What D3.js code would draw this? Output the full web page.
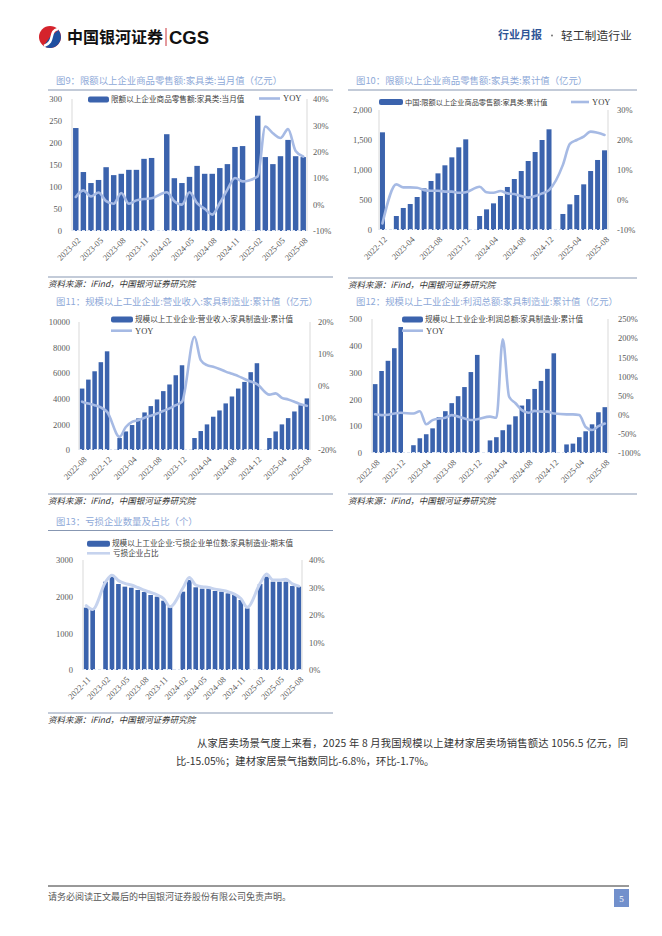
<!DOCTYPE html>
<html><head><meta charset="utf-8">
<script src="https://cdn.jsdelivr.net/npm/d3@7"></script>
<style>html,body{margin:0;padding:0;background:#fff;} svg{display:block;}</style>
</head><body>
<svg id="page" width="662" height="936"></svg>
<script>
// ---------- helpers for month categories ----------
function months(start, end) {
  let [y, m] = start.split('-').map(Number);
  const [ey, em] = end.split('-').map(Number);
  const out = [];
  while (y < ey || (y === ey && m <= em)) {
    out.push(y + '-' + String(m).padStart(2, '0'));
    m++; if (m > 12) { m = 1; y++; }
  }
  return out;
}

// ---------- 图9 ----------
const c9Cats = months('2023-02', '2025-08');
const c9Bars = [234,134,109,116,145,127,130,139,139,164,166,null,220,120,109,123,148,130,130,143,152,191,193,null,262,168,152,170,207,170,168];
const c9Yoy  = [2.9,5.4,3.1,4.6,1.3,0.3,4.4,0.3,1.6,2.1,2.4,null,4.7,1.3,0,4.7,0.6,-1.6,-3.8,0.6,5.7,10.1,8.8,null,10.7,29.6,27.0,25.2,28.6,20.3,18.2];
const c9XTicks = ['2023-02','2023-05','2023-08','2023-11','2024-02','2024-05','2024-08','2024-11','2025-02','2025-05','2025-08'];
const c9LTicks = [0,50,100,150,200,250,300];
const c9RTicks = [-10,0,10,20,30,40];

// ---------- 图10 ----------
const c10Cats = months('2022-12', '2025-08');
const c10Bars = [1628,null,233,367,433,550,694,817,944,1078,1211,1378,1511,null,233,344,444,567,717,850,983,1150,1300,1500,1678,null,267,428,583,761,983,1167,1328];
const c10Yoy  = [-7.8,null,5.2,4.2,4.2,4.1,3.3,3.1,3.1,2.8,2.8,2.4,2.6,null,4.4,2.6,2.4,3.0,2.2,2.0,1.3,0.8,1.3,2.2,3.3,null,11.7,18.7,20.0,21.1,22.8,22.4,21.7];
const c10XTicks = ['2022-12','2023-04','2023-08','2023-12','2024-04','2024-08','2024-12','2025-04','2025-08'];
const c10LTicks = [0,500,1000,1500,2000];
const c10RTicks = [-10,0,10,20,30];

// ---------- 图11 ----------
const c11Cats = months('2022-08', '2025-08');
const c11Bars = [4800,5500,6150,6860,7710,null,935,1450,1950,2470,2935,3430,3950,4600,5120,5840,6620,null,935,1480,2000,2600,3090,3640,4180,4800,5320,6080,6780,null,935,1450,2000,2490,3010,3500,4030];
const c11Yoy  = [-4.9,-5.5,-6.0,-6.7,-8.1,null,-15.9,-12.8,-11.2,-10.7,-9.9,-9.3,-8.6,-7.8,-7.0,-6.0,-4.9,null,15.4,8.1,6.5,6.0,5.3,4.5,3.8,3.1,2.2,1.4,0.6,null,-2.7,-2.3,-3.7,-4.2,-4.9,-5.7,-6.2];
const c11XTicks = ['2022-08','2022-12','2023-04','2023-08','2023-12','2024-04','2024-08','2024-12','2025-04','2025-08'];
const c11LTicks = [0,2000,4000,6000,8000,10000];
const c11RTicks = [-20,-10,0,10,20];

// ---------- 图12 ----------
const c12Cats = months('2022-08', '2025-08');
const c12Bars = [257,306,344,391,470,null,29,55,70,92,134,156,186,212,246,302,366,null,47,59,85,106,137,177,201,239,269,314,372,null,32,35,59,81,107,152,171];
const c12Yoy  = [1,-1,0,3,5,null,3,9,-25,-14,-10,-8,-1,-5,-10,-14,-12,null,-5,-8,197,47,30,12,5,10,8,8,3,null,1,1,-1,-32,-40,-30,-23];
const c12XTicks = c11XTicks;
const c12LTicks = [0,100,200,300,400,500];
const c12RTicks = [-100,-50,0,50,100,150,200,250];

// ---------- 图13 ----------
const c13Cats = months('2022-11', '2025-08');
const c13Bars = [1700,1636,null,2409,2545,2345,2273,2245,2182,2127,2045,2000,1890,1709,null,2136,2455,2255,2218,2218,2155,2136,2090,2045,1909,1682,null,2345,2545,2409,2409,2409,2290,2273];
const c13Ratio = [23.4,22.0,null,32.0,34.5,32.5,31.5,30.9,30.0,29.0,28.2,27.3,26.0,23.0,null,29.7,33.6,30.9,30.3,30.0,29.4,29.0,28.5,27.6,26.0,22.8,null,31.5,34.9,32.7,32.7,33.0,31.3,30.5];
const c13XTicks = ['2022-11','2023-02','2023-05','2023-08','2023-11','2024-02','2024-05','2024-08','2024-11','2025-02','2025-05','2025-08'];
const c13LTicks = [0,1000,2000,3000];
const c13RTicks = [0,10,20,30,40];

// ---------- styles ----------
const CJK = "'Noto Sans CJK SC','Noto Sans',sans-serif";
const SERIF = "'Liberation Serif','Noto Sans CJK SC',serif";
const BAR = '#3b63ad';
const LINE = '#a6bae4';
const TICK = '#595959';
const SEP = '#8797b2';

const svg = d3.select('#page');
svg.append('rect').attr('width', 662).attr('height', 936).attr('fill', '#fff');

// ---------- header ----------
(function header() {
  const g = svg.append('g');
  const cx = 50, cy = 37, r = 11;
  g.append('circle').attr('cx', cx).attr('cy', cy).attr('r', r).attr('fill', '#d5232c');
  const arc = d3.arc().innerRadius(0).outerRadius(r).startAngle(Math.PI * 0.28).endAngle(Math.PI * 1.2);
  g.append('path').attr('d', arc()).attr('transform', `translate(${cx},${cy})`).attr('fill', '#1f4fa0');
  g.append('path').attr('d', `M${cx + 8},${cy - 8} C${cx - 2},${cy - 6} ${cx + 6},${cy + 5} ${cx - 6},${cy + 9}`)
    .attr('fill', 'none').attr('stroke', '#fff').attr('stroke-width', 2.6);
  g.append('text').attr('x', 67).attr('y', 42.5).attr('font-family', CJK).attr('font-weight', 700)
    .attr('font-size', 16).attr('fill', '#111').text('中国银河证券');
  g.append('line').attr('x1', 166).attr('x2', 166).attr('y1', 28).attr('y2', 46).attr('stroke', '#c8323a').attr('stroke-width', 1);
  g.append('text').attr('x', 169).attr('y', 43.5).attr('font-family', "'Liberation Sans',Arial,sans-serif").attr('font-weight', 700)
    .attr('font-size', 18.5).attr('fill', '#111').text('CGS');
  g.append('text').attr('x', 498).attr('y', 39).attr('font-family', CJK).attr('font-size', 11).attr('font-weight', 700)
    .attr('fill', '#2f5597').text('行业月报');
  g.append('circle').attr('cx', 552).attr('cy', 35.5).attr('r', 0.9).attr('fill', '#666');
  g.append('text').attr('x', 561).attr('y', 39.5).attr('font-family', CJK).attr('font-size', 11.8).attr('fill', '#333')
    .text('轻工制造行业');
})();

// ---------- generic chart ----------
function chart(o) {
  const g = svg.append('g');
  g.append('text').attr('x', o.titleX).attr('y', o.titleY).attr('font-family', CJK).attr('font-size', 9.4)
    .attr('fill', '#8ea9d8').text(o.title);
  if (o.titleLine) {
    g.append('line').attr('x1', o.sepX0).attr('x2', o.sepX1).attr('y1', o.titleLine).attr('y2', o.titleLine)
      .attr('stroke', SEP).attr('stroke-width', 1);
  }
  g.append('line').attr('x1', o.sepX0).attr('x2', o.sepX1).attr('y1', o.bottomLine).attr('y2', o.bottomLine)
    .attr('stroke', SEP).attr('stroke-width', 1);
  g.append('text').attr('x', o.sepX0).attr('y', o.bottomLine + 10).attr('font-family', CJK).attr('font-size', 8.5)
    .attr('font-style', 'italic').attr('fill', '#333').text('资料来源：iFind，中国银河证券研究院');

  const x = d3.scaleBand().domain(o.cats).range([o.x0, o.x1]).paddingInner(0.28).paddingOuter(0.14);
  const yL = d3.scaleLinear().domain(o.lDom).range([o.yB, o.yT]);
  const yR = d3.scaleLinear().domain(o.rDom).range([o.yB, o.yT]);

  [o.x0, o.x1].forEach(xx => g.append('line').attr('x1', xx).attr('x2', xx).attr('y1', o.yT).attr('y2', o.yB)
    .attr('stroke', '#d9d9d9').attr('stroke-width', 1));

  const bd = o.cats.map((c, i) => ({ c, v: o.bars[i] })).filter(d => d.v != null);
  g.append('g').selectAll('rect').data(bd).join('rect')
    .attr('x', d => x(d.c)).attr('width', x.bandwidth())
    .attr('y', d => yL(d.v)).attr('height', d => yL(0) - yL(d.v)).attr('fill', BAR);

  g.append('line').attr('x1', o.x0).attr('x2', o.x1).attr('y1', o.yB - 0.5).attr('y2', o.yB - 0.5)
    .attr('stroke', '#dde4f2').attr('stroke-width', 1.2).attr('stroke-dasharray', '3,2');

  const ld = o.cats.map((c, i) => ({ c, v: o.line[i] })).filter(d => d.v != null);
  const line = d3.line().x(d => x(d.c) + x.bandwidth() / 2).y(d => yR(d.v)).curve(d3.curveMonotoneX);
  g.append('path').datum(ld).attr('d', line).attr('fill', 'none').attr('stroke', o.lineColor || LINE)
    .attr('stroke-width', o.lineW || 2.6).attr('stroke-linejoin', 'round').attr('stroke-linecap', 'round');

  const axL = g.append('g').attr('transform', `translate(${o.x0},0)`)
    .call(d3.axisLeft(yL).tickValues(o.lTicks).tickSize(0).tickPadding(o.lPad).tickFormat(o.lFmt || (d => d)));
  const axR = g.append('g').attr('transform', `translate(${o.x1},0)`)
    .call(d3.axisRight(yR).tickValues(o.rTicks).tickSize(0).tickPadding(o.rPad).tickFormat(d => d + '%'));
  const axB = g.append('g').attr('transform', `translate(0,${o.yB})`)
    .call(d3.axisBottom(x).tickValues(o.xTicks).tickSize(0));
  [axL, axR, axB].forEach(a => {
    a.select('.domain').remove();
    a.selectAll('text').attr('font-family', SERIF).attr('font-size', 8.5).attr('fill', TICK);
  });
  axB.selectAll('text').attr('x', 0).attr('y', 0).attr('dy', '0.35em')
    .attr('transform', 'translate(3,8) rotate(-45)').style('text-anchor', 'end');

  const L = o.legend;
  g.append('rect').attr('x', L.rx).attr('y', L.ry).attr('width', L.rw).attr('height', 6).attr('rx', 2).attr('fill', BAR);
  g.append('text').attr('x', L.rx + L.rw + 2).attr('y', L.ry + 3).attr('dy', '0.35em').attr('font-family', CJK)
    .attr('font-size', L.fs || 7.6).attr('fill', '#404040').text(L.barText);
  g.append('line').attr('x1', L.lx).attr('x2', L.lx + L.lw).attr('y1', L.ly).attr('y2', L.ly)
    .attr('stroke', o.lineColor || LINE).attr('stroke-width', 2.6);
  g.append('text').attr('x', L.lx + L.lw + 3).attr('y', L.ly).attr('dy', '0.35em')
    .attr('font-family', L.lineText === 'YOY' ? SERIF : CJK).attr('font-size', L.lineText === 'YOY' ? 8.5 : 7.6)
    .attr('fill', '#404040').text(L.lineText);
}

chart({
  title: '图9：限额以上企业商品零售额:家具类:当月值（亿元）', titleX: 56, titleY: 83.5, titleLine: 90,
  sepX0: 48, sepX1: 333, bottomLine: 277,
  cats: c9Cats, bars: c9Bars, line: c9Yoy, xTicks: c9XTicks,
  x0: 72, x1: 307, yT: 99, yB: 231, lDom: [0, 300], rDom: [-10, 40],
  lTicks: c9LTicks, rTicks: c9RTicks, lPad: 10, rPad: 6,
  legend: { rx: 88, ry: 96.5, rw: 21, barText: '限额以上企业商品零售额:家具类:当月值', lx: 259, ly: 98.5, lw: 21, lineText: 'YOY' }
});

chart({
  title: '图10：限额以上企业商品零售额:家具类:累计值（亿元）', titleX: 356, titleY: 83.5, titleLine: 90,
  sepX0: 348, sepX1: 637, bottomLine: 278,
  cats: c10Cats, bars: c10Bars, line: c10Yoy, xTicks: c10XTicks,
  x0: 379, x1: 608, yT: 110, yB: 230, lDom: [0, 2000], rDom: [-10, 30],
  lTicks: c10LTicks, rTicks: c10RTicks, lPad: 7, rPad: 9, lFmt: d3.format(','),
  legend: { rx: 379, ry: 99, rw: 24, fs: 7.2, barText: '中国:限额以上企业商品零售额:家具类:累计值', lx: 571, ly: 102, lw: 18, lineText: 'YOY' }
});

chart({
  title: '图11：规模以上工业企业:营业收入:家具制造业:累计值（亿元）', titleX: 56, titleY: 304.5,
  sepX0: 48, sepX1: 333, bottomLine: 494,
  cats: c11Cats, bars: c11Bars, line: c11Yoy, xTicks: c11XTicks,
  x0: 79, x1: 310, yT: 322, yB: 450, lDom: [0, 10000], rDom: [-20, 20],
  lTicks: c11LTicks, rTicks: c11RTicks, lPad: 9, rPad: 8,
  legend: { rx: 111, ry: 316.5, rw: 22, barText: '规模以上工业企业:营业收入:家具制造业:累计值', lx: 111, ly: 330.7, lw: 21, lineText: 'YOY' }
});

chart({
  title: '图12：规模以上工业企业:利润总额:家具制造业:累计值（亿元）', titleX: 356, titleY: 304.5,
  sepX0: 348, sepX1: 637, bottomLine: 494,
  cats: c12Cats, bars: c12Bars, line: c12Yoy, xTicks: c12XTicks,
  x0: 372, x1: 608, yT: 319, yB: 453, lDom: [0, 500], rDom: [-100, 250],
  lTicks: c12LTicks, rTicks: c12RTicks, lPad: 10, rPad: 10,
  legend: { rx: 402, ry: 316.5, rw: 21, barText: '规模以上工业企业:利润总额:家具制造业:累计值', lx: 402, ly: 330.7, lw: 21, lineText: 'YOY' }
});

chart({
  title: '图13：亏损企业数量及占比（个）', titleX: 56, titleY: 525, titleLine: 530.5,
  sepX0: 48, sepX1: 333, bottomLine: 713,
  cats: c13Cats, bars: c13Bars, line: c13Ratio, xTicks: c13XTicks,
  x0: 83, x1: 302, yT: 560, yB: 670, lDom: [0, 3000], rDom: [0, 40],
  lTicks: c13LTicks, rTicks: c13RTicks, lPad: 10, rPad: 7,
  lineColor: '#c6d3ee', lineW: 3,
  legend: { rx: 87, ry: 540.7, rw: 23, barText: '规模以上工业企业:亏损企业单位数:家具制造业:期末值', lx: 87, ly: 553.3, lw: 23, lineText: '亏损企业占比' }
});

// ---------- body text ----------
(function body() {
  const g = svg.append('g').attr('font-family', CJK).attr('font-size', 10.3).attr('fill', '#333');
  g.append('text').attr('x', 197).attr('y', 747).attr('textLength', 431).attr('lengthAdjust', 'spacing')
    .text('从家居卖场景气度上来看，2025 年 8 月我国规模以上建材家居卖场销售额达 1056.5 亿元，同');
  g.append('text').attr('x', 176).attr('y', 765)
    .text('比-15.05%；建材家居景气指数同比-6.8%，环比-1.7%。');
})();

// ---------- footer ----------
(function footer() {
  svg.append('line').attr('x1', 48).attr('x2', 629).attr('y1', 886).attr('y2', 886).attr('stroke', '#333').attr('stroke-width', 1);
  svg.append('text').attr('x', 48).attr('y', 900).attr('font-family', CJK).attr('font-size', 9).attr('fill', '#555')
    .text('请务必阅读正文最后的中国银河证券股份有限公司免责声明。');
  svg.append('rect').attr('x', 614).attr('y', 889).attr('width', 15).attr('height', 18).attr('fill', '#7290cc');
  svg.append('text').attr('x', 621.5).attr('y', 901.5).attr('text-anchor', 'middle').attr('font-family', SERIF)
    .attr('font-size', 9).attr('fill', '#fff').text('5');
})();
</script>
</body></html>
